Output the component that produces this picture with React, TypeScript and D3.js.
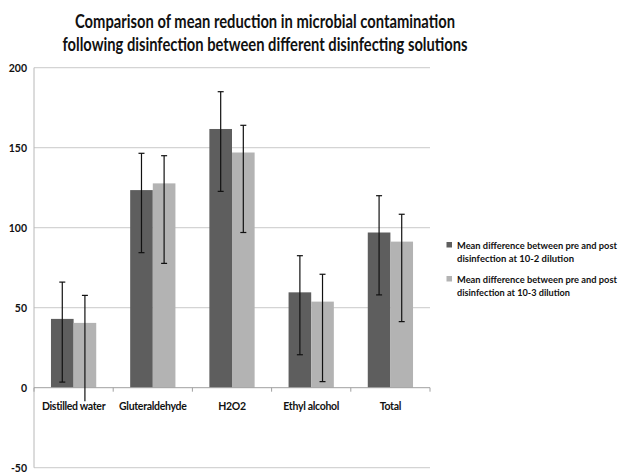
import React from "react";
import * as d3 from "d3";

const categories = ["Distilled water", "Gluteraldehyde", "H2O2", "Ethyl alcohol", "Total"];
const seriesNames = [
  ["Mean difference between pre and post", "disinfection at 10-2  dilution"],
  ["Mean difference between pre and post", "disinfection at 10-3 dilution"],
];
const dil2Values = [43, 123.5, 161.7, 59.6, 97];
const dil2Upper = [66, 146.5, 185, 82.5, 120];
const dil2Lower = [3.5, 84.4, 122.7, 20.6, 58];
const dil3Values = [40.5, 127.7, 147, 53.8, 91.3];
const dil3Upper = [57.7, 145, 164, 70.9, 108.4];
const dil3Lower = [-8.5, 77.7, 97, 3.8, 41.3];
const yTicks = [-50, 0, 50, 100, 150, 200];
const colors = ["#5e5e5e", "#b3b3b3"];

const W = 623, H = 473;
const M = { left: 34, right: 430, top: 67.7, bottom: 467.7 };
const FONT = "Lato, 'Open Sans', sans-serif";

export default function App() {
  const y = d3.scaleLinear().domain([-50, 200]).range([M.bottom, M.top]);
  const x0 = d3.scaleBand().domain(categories).range([M.left, M.right]).paddingInner(0).paddingOuter(0);
  const bw = x0.bandwidth();
  const barW = bw / 3.5;
  const series = [
    { v: dil2Values, up: dil2Upper, lo: dil2Lower },
    { v: dil3Values, up: dil3Upper, lo: dil3Lower },
  ];
  const y0 = y(0);
  const legendLens = [[160, 117], [160, 113]];
  return (
    <svg width={W} height={H} style={{ position: "absolute", left: 0, top: 0, background: "#fff" }}>
      <g fontFamily={FONT} fontWeight="bold" fill="#111">
        <text x={265} y={28} textAnchor="middle" fontSize={18} textLength={380} lengthAdjust="spacingAndGlyphs">Comparison of mean reduction in microbial contamination</text>
        <text x={265} y={51} textAnchor="middle" fontSize={18} textLength={405} lengthAdjust="spacingAndGlyphs">following disinfection  between different disinfecting solutions</text>
      </g>
      {yTicks.filter((t) => t !== 0).map((t) => (
        <line key={t} x1={M.left} x2={M.right} y1={y(t)} y2={y(t)} stroke="#d4d4d4" strokeWidth={1.2} />
      ))}
      <line x1={M.left} x2={M.left} y1={M.top} y2={M.bottom} stroke="#b8b8b8" strokeWidth={1} />
      {yTicks.map((t) => (
        <text key={t} x={27} y={y(t) + 4} textAnchor="end" fontFamily={FONT} fontWeight="bold" fontSize={10.5} fill="#111">{t}</text>
      ))}
      {series.map((s, si) =>
        categories.map((c, i) => {
          const bx = (x0(c) as number) + (bw - 2 * barW) / 2 + si * barW;
          return (
            <rect key={`${si}-${i}`} x={bx} y={y(Math.max(0, s.v[i]))} width={barW} height={Math.abs(y(s.v[i]) - y0)} fill={colors[si]} />
          );
        })
      )}
      <line x1={M.left} x2={M.right} y1={y0} y2={y0} stroke="#a0a0a0" strokeWidth={1} />
      {d3.range(categories.length + 1).map((k) => {
        const xx = M.left + k * bw;
        return <line key={k} x1={xx} x2={xx} y1={y0} y2={y0 + 4} stroke="#a0a0a0" />;
      })}
      {series.map((s, si) =>
        categories.map((c, i) => {
          const cx = (x0(c) as number) + (bw - 2 * barW) / 2 + si * barW + barW / 2;
          const hideBottomCap = s.lo[i] < 0;
          return (
            <g key={`e${si}-${i}`} stroke="#111" strokeWidth={1.2}>
              <line x1={cx} x2={cx} y1={y(s.up[i])} y2={y(s.lo[i])} />
              <line x1={cx - 3} x2={cx + 3} y1={y(s.up[i])} y2={y(s.up[i])} />
              {!hideBottomCap && <line x1={cx - 3} x2={cx + 3} y1={y(s.lo[i])} y2={y(s.lo[i])} />}
            </g>
          );
        })
      )}
      {categories.map((c) => (
        <text key={c} x={(x0(c) as number) + bw / 2} y={410} textAnchor="middle" fontFamily={FONT} fontWeight="bold" fontSize={10.5} fill="#111" letterSpacing={-0.3}>{c}</text>
      ))}
      {seriesNames.map((lines, si) => {
        const ly = 242 + si * 34;
        return (
          <g key={si} fontFamily={FONT} fontWeight="bold" fontSize={9.3} fill="#111">
            <rect x={446.5} y={ly} width={5.5} height={5.5} fill={colors[si]} />
            <text x={457} y={ly + 6.5} textLength={legendLens[si][0]} lengthAdjust="spacingAndGlyphs">{lines[0]}</text>
            <text x={457} y={ly + 19.5} textLength={legendLens[si][1]} lengthAdjust="spacingAndGlyphs">{lines[1]}</text>
          </g>
        );
      })}
    </svg>
  );
}
